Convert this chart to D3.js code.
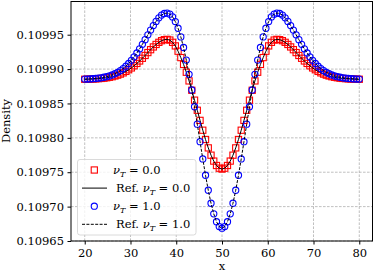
<!DOCTYPE html>
<head>
  <title>Density profile</title>
  <meta charset="utf-8">
  <script src="https://d3js.org/d3.v7.min.js"></script>
  <style>
    body { margin: 0; background: #fff; }
    text { font-family: "DejaVu Serif", serif; fill: #000; }
    .grid line { stroke: #b0b0b0; stroke-width: 0.8; stroke-dasharray: 2.6,1.4; }
    .frame { fill: none; stroke: #000; stroke-width: 1; }
  </style>
</head>
<body>
<div class="container"></div>
<script type="text/javascript">
'use strict';
var width = 374;
var height = 272;
var margin = { left: 71, right: 1, top: 1, bottom: 31 };

var xTicks = [20, 30, 40, 50, 60, 70, 80];
var yTicks = [0.10965, 0.10970, 0.10975, 0.10980, 0.10985, 0.10990, 0.10995];

// grid points
var xs = [20, 20.6, 21.2, 21.8, 22.4, 23, 23.6, 24.2, 24.8, 25.4, 26, 26.6, 27.2, 27.8, 28.4, 29, 29.6,
  30.2, 30.8, 31.4, 32, 32.6, 33.2, 33.8, 34.4, 35, 35.6, 36.2, 36.8, 37.4, 38, 38.6, 39.2, 39.8,
  40.4, 41, 41.6, 42.2, 42.8, 43.4, 44, 44.6, 45.2, 45.8, 46.4, 47, 47.6, 48.2, 48.8, 49.4, 50,
  50.6, 51.2, 51.8, 52.4, 53, 53.6, 54.2, 54.8, 55.4, 56, 56.6, 57.2, 57.8, 58.4, 59, 59.6,
  60.2, 60.8, 61.4, 62, 62.6, 63.2, 63.8, 64.4, 65, 65.6, 66.2, 66.8, 67.4, 68, 68.6, 69.2, 69.8,
  70.4, 71, 71.6, 72.2, 72.8, 73.4, 74, 74.6, 75.2, 75.8, 76.4, 77, 77.6, 78.2, 78.8, 79.4, 80];

// nu_T = 0.0
var nu0 = [0.1098852, 0.1098853, 0.1098854, 0.1098856, 0.1098858, 0.1098861, 0.1098864, 0.1098868,
  0.1098874, 0.1098881, 0.1098889, 0.1098900, 0.1098912, 0.1098927, 0.1098945, 0.1098966, 0.1098990,
  0.1099017, 0.1099048, 0.1099082, 0.1099118, 0.1099157, 0.1099198, 0.1099240, 0.1099282, 0.1099322,
  0.1099358, 0.1099389, 0.1099413, 0.1099428, 0.1099432, 0.1099422, 0.1099389, 0.1099337, 0.1099260,
  0.1099167, 0.1099068, 0.1098954, 0.1098828, 0.1098692, 0.1098548, 0.1098401, 0.1098254, 0.1098111,
  0.1097976, 0.1097854, 0.1097748, 0.1097662, 0.1097598, 0.1097559,
  0.1097546,
  0.1097559, 0.1097598, 0.1097662, 0.1097748, 0.1097854, 0.1097976, 0.1098111, 0.1098254, 0.1098401,
  0.1098548, 0.1098692, 0.1098828, 0.1098954, 0.1099068, 0.1099167, 0.1099260, 0.1099337, 0.1099389,
  0.1099422, 0.1099432, 0.1099428, 0.1099413, 0.1099389, 0.1099358, 0.1099322, 0.1099282, 0.1099240,
  0.1099198, 0.1099157, 0.1099118, 0.1099082, 0.1099048, 0.1099017, 0.1098990, 0.1098966, 0.1098945,
  0.1098927, 0.1098912, 0.1098900, 0.1098889, 0.1098881, 0.1098874, 0.1098868, 0.1098864, 0.1098861,
  0.1098858, 0.1098856, 0.1098854, 0.1098853, 0.1098852];

// nu_T = 1.0
var nu1 = [0.1098854, 0.1098855, 0.1098857, 0.1098860, 0.1098863, 0.1098868, 0.1098873, 0.1098881,
  0.1098890, 0.1098901, 0.1098915, 0.1098933, 0.1098953, 0.1098978, 0.1099008, 0.1099042, 0.1099082,
  0.1099127, 0.1099178, 0.1099234, 0.1099295, 0.1099360, 0.1099428, 0.1099498, 0.1099567, 0.1099633,
  0.1099693, 0.1099745, 0.1099785, 0.1099809, 0.1099815, 0.1099799, 0.1099759, 0.1099691, 0.1099594,
  0.1099468, 0.1099314, 0.1099131, 0.1098924, 0.1098696, 0.1098452, 0.1098199, 0.1097944, 0.1097693,
  0.1097456, 0.1097238, 0.1097049, 0.1096895, 0.1096780, 0.1096710,
  0.1096686,
  0.1096710, 0.1096780, 0.1096895, 0.1097049, 0.1097238, 0.1097456, 0.1097693, 0.1097944, 0.1098199,
  0.1098452, 0.1098696, 0.1098924, 0.1099131, 0.1099314, 0.1099468, 0.1099594, 0.1099691, 0.1099759,
  0.1099799, 0.1099815, 0.1099809, 0.1099785, 0.1099745, 0.1099693, 0.1099633, 0.1099567, 0.1099498,
  0.1099428, 0.1099360, 0.1099295, 0.1099234, 0.1099178, 0.1099127, 0.1099082, 0.1099042, 0.1099008,
  0.1098978, 0.1098953, 0.1098933, 0.1098915, 0.1098901, 0.1098890, 0.1098881, 0.1098873, 0.1098868,
  0.1098863, 0.1098860, 0.1098857, 0.1098855, 0.1098854];

// reference solutions follow the simulated ones
var ref0 = nu0;
var ref1 = nu1;

var svg = d3.select('.container')
  .append('svg')
  .attr('width', width)
  .attr('height', height);

var x = d3.scaleLinear().domain([17, 83]).range([margin.left, width - margin.right]);
var y = d3.scaleLinear().domain([0.10965, 0.109999]).range([height - margin.bottom, margin.top]);

// grid
var grid = svg.append('g').attr('class', 'grid');
grid.selectAll('line.gx').data(xTicks).enter().append('line')
  .attr('x1', function (d) { return x(d); }).attr('x2', function (d) { return x(d); })
  .attr('y1', y.range()[0]).attr('y2', y.range()[1]);
grid.selectAll('line.gy').data(yTicks).enter().append('line')
  .attr('y1', function (d) { return y(d); }).attr('y2', function (d) { return y(d); })
  .attr('x1', x.range()[0]).attr('x2', x.range()[1]);

var plot = svg.append('g');

function pts(vals) {
  return vals.map(function (v, i) { return [xs[i], v]; });
}
var line = d3.line()
  .x(function (d) { return x(d[0]); })
  .y(function (d) { return y(d[1]); });

var sq = 6.2, rc = 3.1, mw = 1.1;

// nu_T = 0.0 markers
plot.selectAll('rect.sq').data(pts(nu0)).enter().append('rect')
  .attr('x', function (d) { return x(d[0]) - sq / 2; })
  .attr('y', function (d) { return y(d[1]) - sq / 2; })
  .attr('width', sq).attr('height', sq)
  .attr('fill', 'none').attr('stroke', '#ff0000').attr('stroke-width', mw);

plot.append('path').datum(pts(ref0))
  .attr('d', line).attr('fill', 'none').attr('stroke', '#000').attr('stroke-width', 1);

plot.selectAll('circle.ci').data(pts(nu1)).enter().append('circle')
  .attr('cx', function (d) { return x(d[0]); })
  .attr('cy', function (d) { return y(d[1]); })
  .attr('r', rc)
  .attr('fill', 'none').attr('stroke', '#0000ff').attr('stroke-width', mw);

plot.append('path').datum(pts(ref1))
  .attr('d', line).attr('fill', 'none').attr('stroke', '#000').attr('stroke-width', 1)
  .attr('stroke-dasharray', '3,1.4');

// axes
var xAxis = svg.append('g')
  .attr('transform', 'translate(0,' + (height - margin.bottom) + ')')
  .call(d3.axisBottom(x).tickValues(xTicks).tickSize(3.5).tickSizeOuter(0).tickPadding(4));
var yAxis = svg.append('g')
  .attr('transform', 'translate(' + margin.left + ',0)')
  .call(d3.axisLeft(y).tickValues(yTicks).tickFormat(d3.format('.5f'))
    .tickSize(3.5).tickSizeOuter(0).tickPadding(3.5));
svg.selectAll('.tick text')
  .attr('font-family', '"DejaVu Serif", serif').attr('font-size', '11.5px').attr('fill', '#000');
svg.selectAll('.domain').remove();

svg.append('rect').attr('class', 'frame')
  .attr('x', margin.left).attr('y', margin.top + 0.5)
  .attr('width', width - margin.left - margin.right - 0.5)
  .attr('height', height - margin.top - margin.bottom - 0.5);

svg.append('text')
  .attr('transform', 'translate(10,' + (margin.top + (height - margin.top - margin.bottom) / 2) + ') rotate(-90)')
  .attr('text-anchor', 'middle').attr('font-size', '11.5px').text('Density');
svg.append('text')
  .attr('x', (x.range()[0] + x.range()[1]) / 2).attr('y', 269.5)
  .attr('text-anchor', 'middle').attr('font-size', '11.5px').text('x');

// legend
var legend = svg.append('g');
legend.append('rect')
  .attr('x', 77.5).attr('y', 159.5).attr('width', 118.5).attr('height', 75.5)
  .attr('rx', 2.5).attr('fill', 'rgba(255,255,255,0.8)').attr('stroke', '#d0d0d0').attr('stroke-width', 0.8);

var entries = [
  { ref: false, nu: '0.0', kind: 'sq' },
  { ref: true, nu: '0.0', kind: 'solid' },
  { ref: false, nu: '1.0', kind: 'ci' },
  { ref: true, nu: '1.0', kind: 'dash' }
];
entries.forEach(function (e, i) {
  var cy = 170 + i * 18.1;
  if (e.kind === 'sq') {
    legend.append('rect').attr('x', 94.3 - sq / 2).attr('y', cy - sq / 2).attr('width', sq).attr('height', sq)
      .attr('fill', 'none').attr('stroke', '#ff0000').attr('stroke-width', mw);
  } else if (e.kind === 'ci') {
    legend.append('circle').attr('cx', 94.3).attr('cy', cy).attr('r', rc)
      .attr('fill', 'none').attr('stroke', '#0000ff').attr('stroke-width', mw);
  } else {
    legend.append('line').attr('x1', 82).attr('x2', 107).attr('y1', cy).attr('y2', cy)
      .attr('stroke', '#000').attr('stroke-width', 1)
      .attr('stroke-dasharray', e.kind === 'dash' ? '3,1.4' : null);
  }
  var t = legend.append('text').attr('x', e.ref ? 116 : 113).attr('y', cy + 4).attr('font-size', '11.5px');
  if (e.ref) t.append('tspan').text('Ref. ');
  t.append('tspan').attr('font-style', 'italic').text('ν');
  t.append('tspan').attr('font-style', 'italic').attr('font-size', '8px').attr('dy', 2.5).text('T');
  t.append('tspan').attr('dy', -2.5).text(' = ' + e.nu);
});
</script>
</body>
